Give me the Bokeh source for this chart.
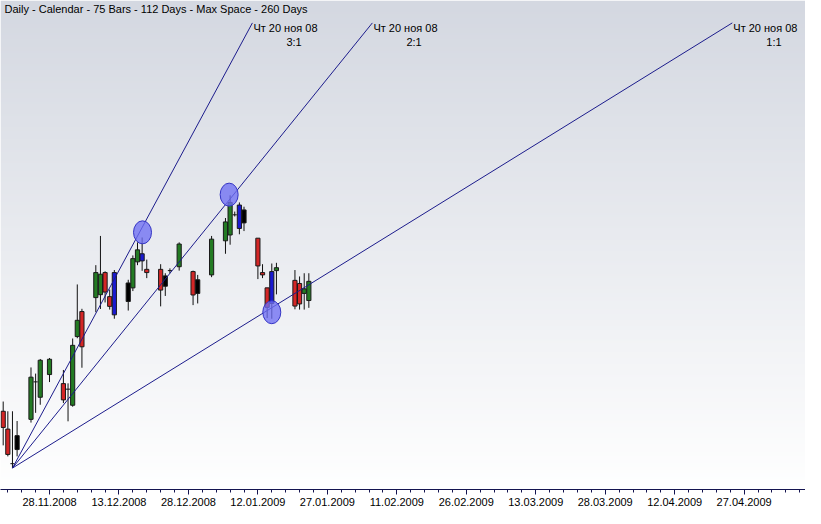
import numpy as np
import pandas as pd
from bokeh.plotting import figure
from bokeh.models import ColumnDataSource, FixedTicker, Range1d
from bokeh.core.properties import value
from bokeh.embed import file_html
from bokeh.resources import INLINE

# ---------------- data ----------------
title_text = "Daily  - Calendar - 75 Bars - 112 Days -  Max Space - 260 Days"

dates = ["2008-11-18", "2008-11-19", "2008-11-20", "2008-11-21", "2008-11-24", "2008-11-25",
         "2008-11-26", "2008-11-28", "2008-12-01", "2008-12-02", "2008-12-03", "2008-12-04",
         "2008-12-05", "2008-12-08", "2008-12-09", "2008-12-10", "2008-12-11", "2008-12-12",
         "2008-12-15", "2008-12-16", "2008-12-17", "2008-12-18", "2008-12-19", "2008-12-22",
         "2008-12-23", "2008-12-24", "2008-12-26", "2008-12-29", "2008-12-30", "2009-01-02",
         "2009-01-05", "2009-01-06", "2009-01-07", "2009-01-08", "2009-01-09", "2009-01-12",
         "2009-01-13", "2009-01-14", "2009-01-15", "2009-01-16", "2009-01-20", "2009-01-21",
         "2009-01-22", "2009-01-23"]
opens = [11.83, 10.0, 6.45, 9.33, 11.0, 14.85, 13.27, 15.6, 14.67, 14.1, 12.45, 19.5,
         22.07, 23.5, 23.8, 26.07, 23.6, 26.07, 25.0, 24.5, 27.17, 28.0, 26.4, 26.4,
         25.73, 26.27, 26.67, 26.17, 25.33, 25.83, 29.33, 29.93, 32.0, 33.0, 32.5, 29.6,
         26.07, 24.5, 26.17, 26.27, 25.27, 24.95, 23.93, 23.2]
highs = [12.83, 11.83, 11.83, 10.83, 16.33, 15.7, 17.2, 17.3, 16.07, 14.7, 19.3, 24.85,
         22.35, 26.83, 29.83, 26.2, 24.33, 26.33, 25.33, 27.83, 29.17, 29.67, 27.4, 26.93,
         26.0, 26.5, 29.17, 26.27, 25.83, 29.83, 31.67, 34.0, 32.33, 33.27, 32.83, 29.6,
         26.93, 24.5, 27.0, 27.07, 26.33, 25.67, 26.0, 26.0]
lows = [8.33, 7.2, 6.0, 7.2, 10.67, 11.67, 12.5, 14.83, 12.67, 10.8, 12.3, 19.33,
        16.3, 22.0, 22.33, 23.0, 22.27, 21.33, 22.17, 24.17, 26.83, 26.25, 25.5, 22.6,
        23.67, 26.0, 26.27, 22.73, 22.9, 25.6, 28.0, 28.93, 31.83, 30.0, 30.33, 25.4,
        25.5, 21.4, 21.33, 23.83, 22.3, 22.27, 22.27, 22.45]
closes = [10.17, 7.4, 6.45, 7.9, 15.33, 14.85, 17.07, 17.17, 13.0, 14.1, 18.6, 21.17,
          18.45, 26.07, 25.9, 24.07, 22.6, 21.73, 23.1, 27.5, 28.4, 27.27, 26.07, 24.27,
          24.67, 26.27, 29.0, 23.77, 23.93, 29.5, 31.27, 33.27, 32.0, 30.6, 31.17, 26.75,
          25.83, 22.5, 22.9, 26.57, 22.63, 22.85, 24.4, 25.17]
# g = up, r = down, k = black marked bar, b = blue marked bar, d = doji
bar_kind = ["r", "r", "d", "k", "g", "d", "g", "g", "r", "d", "g", "g",
            "r", "g", "g", "r", "r", "b", "k", "g", "g", "b", "r", "r",
            "k", "d", "g", "r", "k", "g", "g", "g", "d", "b", "k", "r",
            "r", "r", "b", "g", "r", "r", "g", "g"]

# Gann fan
fan_origin_date = "2008-11-20"
fan_origin_price = 6.0
fan_unit_slope = 0.294          # price per day for 1:1
fan_top_price = 51.7
fan_ratios = [3, 2, 1]
fan_ratio_labels = ["3:1", "2:1", "1:1"]
fan_origin_label = "Чт 20 ноя 08"

# marked touches
touch_dates = ["2008-12-18 02:00", "2009-01-05 19:00", "2009-01-15 00:00"]
touch_prices = [30.2, 34.07, 22.0]

tick_labels = ["13.11.2008", "28.11.2008", "13.12.2008", "28.12.2008", "12.01.2009",
               "27.01.2009", "11.02.2009", "26.02.2009", "13.03.2009", "28.03.2009",
               "12.04.2009", "27.04.2009", "12.05.2009"]

# ---------------- helpers ----------------
DAY = 86400000.0


def ms(s):
    return pd.Timestamp(s).value / 1e6


x = [ms(d) for d in dates]
colors_map = {"g": "#237b23", "r": "#d42626", "k": "#000000", "b": "#1a1ad0"}

body_idx = [i for i, k in enumerate(bar_kind) if k != "d"]
doji_idx = [i for i, k in enumerate(bar_kind) if k == "d"]

wick_src = ColumnDataSource(dict(x=x, low=lows, high=highs))
body_src = ColumnDataSource(dict(
    x=[x[i] for i in body_idx],
    top=[max(opens[i], closes[i]) for i in body_idx],
    bottom=[min(opens[i], closes[i]) for i in body_idx],
    color=[colors_map[bar_kind[i]] for i in body_idx],
))
doji_src = ColumnDataSource(dict(
    x0=[x[i] - 0.45 * DAY for i in doji_idx],
    x1=[x[i] + 0.45 * DAY for i in doji_idx],
    y=[opens[i] for i in doji_idx],
))

x0_fan = ms(fan_origin_date)
fan_end_x = [x0_fan + (fan_top_price - fan_origin_price) / (fan_unit_slope * r) * DAY for r in fan_ratios]
fan_src = ColumnDataSource(dict(
    x0=[x0_fan] * len(fan_ratios), y0=[fan_origin_price] * len(fan_ratios),
    x1=fan_end_x, y1=[fan_top_price] * len(fan_ratios),
    lab=[fan_origin_label] * len(fan_ratios), ratio=fan_ratio_labels,
))

x_start = ms("2008-11-17 10:00")
x_end = ms("2009-05-10 06:00")
y_start, y_end = 3.8, 54.0

p = figure(width=805, height=508, output_backend="svg", toolbar_location=None,
           x_range=Range1d(x_start, x_end), y_range=Range1d(y_start, y_end),
           y_axis_location=None, min_border_left=0, min_border_right=0,
           min_border_top=0, min_border_bottom=0)
p.grid.visible = False
p.outline_line_color = None
p.background_fill_color = "white"
p.border_fill_color = "white"

# gradient background
n = 256
t = np.linspace(0, 1, n)[:, None] * np.ones((1, 2))  # 0 bottom -> 1 top
top_c = np.array([212, 216, 225])
bot_c = np.array([255, 255, 255])
img = np.empty((n, 2), dtype=np.uint32)
view = img.view(dtype=np.uint8).reshape((n, 2, 4))
for ch in range(3):
    view[:, :, ch] = (bot_c[ch] + (top_c[ch] - bot_c[ch]) * t).astype(np.uint8)
view[:, :, 3] = 255
p.image_rgba(image=[img], x=x_start, y=y_start, dw=x_end - x_start, dh=y_end - y_start)

# candles
p.segment(x0="x", y0="low", x1="x", y1="high", source=wick_src, line_color="#111111", line_width=1)
p.vbar(x="x", width=0.9 * DAY, top="top", bottom="bottom", source=body_src,
       fill_color="color", line_color="#1a1a1a", line_width=1)
p.segment(x0="x0", y0="y", x1="x1", y1="y", source=doji_src, line_color="#111111", line_width=1)

# fan lines
p.segment(x0="x0", y0="y0", x1="x1", y1="y1", source=fan_src, line_color="#1c1c8c", line_width=1)

# touch markers
p.ellipse(x=[ms(d) for d in touch_dates], y=touch_prices, width=18, height=23,
          width_units="screen", height_units="screen",
          fill_color="#6e6ef2", fill_alpha=0.78, line_color="#3434c4", line_width=1)

# fan labels
p.text(x="x1", y="y1", text="lab", source=fan_src, x_offset=1, y_offset=5,
       text_baseline="middle", text_align="left", text_font=value("Liberation Sans"),
       text_font_size="11px", text_color="#000000")
p.text(x="x1", y="y1", text="ratio", source=fan_src, x_offset=34, y_offset=19,
       text_baseline="middle", text_align="left", text_font=value("Liberation Sans"),
       text_font_size="11px", text_color="#000000")

# title
p.text(x=[x_start], y=[y_end], text=[title_text], x_offset=4, y_offset=8,
       text_baseline="middle", text_align="left", text_font=value("Liberation Sans"),
       text_font_size="11px", text_color="#000000")

# x axis
tick_ms = [int(pd.Timestamp(pd.to_datetime(s, format="%d.%m.%Y")).value // 10**6) for s in tick_labels]
minor = [int(tick_ms[0] + k * 3 * DAY) for k in range(0, int((tick_ms[-1] - tick_ms[0]) / (3 * DAY)) + 1)]
ax = p.xaxis[0]
ax.ticker = FixedTicker(ticks=tick_ms, minor_ticks=minor)
ax.major_label_overrides = {tm: lab for tm, lab in zip(tick_ms, tick_labels)}
ax.axis_line_color = "#141450"
ax.major_tick_line_color = "#141450"
ax.minor_tick_line_color = "#141450"
ax.major_tick_in = 0
ax.major_tick_out = 5
ax.minor_tick_in = 0
ax.minor_tick_out = 3
ax.major_label_standoff = 3
ax.major_label_text_font = "Liberation Sans"
ax.major_label_text_font_size = "11px"
ax.major_label_text_color = "#000000"

open("out.html", "w").write(file_html(p, INLINE))
